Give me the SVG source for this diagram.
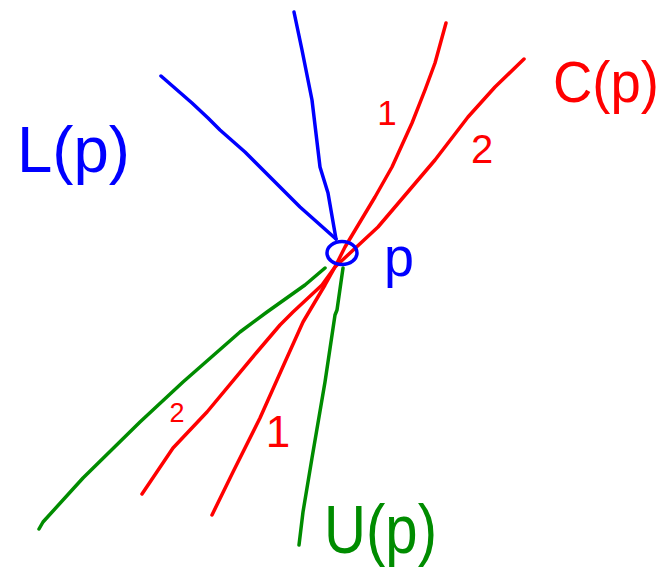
<svg xmlns="http://www.w3.org/2000/svg" width="670" height="569" viewBox="0 0 670 569">
<style>
.ln{fill:none;stroke-width:3.5;stroke-linecap:round;stroke-linejoin:round}
.b{stroke:#0000ff}.r{stroke:#ff0000}.g{stroke:#008c00}
.t{font-family:"Liberation Sans","DejaVu Sans",sans-serif;font-weight:normal}
.tb{fill:#0000ff}.tr{fill:#ff0000}.tg{fill:#008c00}
</style>
<rect width="670" height="569" fill="#ffffff"/>
<g id="connectors">
  <polyline class="ln b" points="161,76 192,103 208,118 220,130 245,152 273,180 300,207 336,239"/>
  <polyline class="ln b" points="294,12 302,50 312,100 320,167 328,193 336,239"/>
  <polyline class="ln r" points="446,23 435,63 425,90 412,123 392,167 375,197 345,247 335,267 325,285 303,322 285,362 260,418 233,472 212,515"/>
  <polyline class="ln r" points="524,59 495,87 468,117 435,160 378,227 335,267 322,285 293,312 280,325 257,352 207,412 173,448 142,494"/>
  <polyline class="ln g" points="325,268 305,285 267,312 240,332 183,382 140,422 83,478 43,522 39,529"/>
  <polyline class="ln g" points="343,268 337,310 335,315 325,382 312,458 303,512 299,545"/>
  <text class="t tr" x="387" y="125" font-size="35" text-anchor="middle">1</text>
  <text class="t tr" x="482" y="163" font-size="40" text-anchor="middle">2</text>
  <text class="t tr" x="177" y="422" font-size="27" text-anchor="middle">2</text>
  <text class="t tr" x="278" y="447" font-size="44" text-anchor="middle">1</text>
</g>
<g id="node-p">
  <ellipse cx="342" cy="253" rx="15" ry="11.5" class="ln b"/>
  <text class="t tb" x="384" y="276" font-size="56" textLength="30" lengthAdjust="spacingAndGlyphs">p</text>
</g>
<g id="node-L">
  <text class="t tb" x="17" y="172" font-size="64" textLength="113" lengthAdjust="spacingAndGlyphs">L(p)</text>
</g>
<g id="node-C">
  <text class="t tr" x="553" y="102" font-size="58" textLength="106" lengthAdjust="spacingAndGlyphs">C(p)</text>
</g>
<g id="node-U">
  <text class="t tg" x="324" y="553" font-size="68" textLength="113" lengthAdjust="spacingAndGlyphs">U(p)</text>
</g>
</svg>
